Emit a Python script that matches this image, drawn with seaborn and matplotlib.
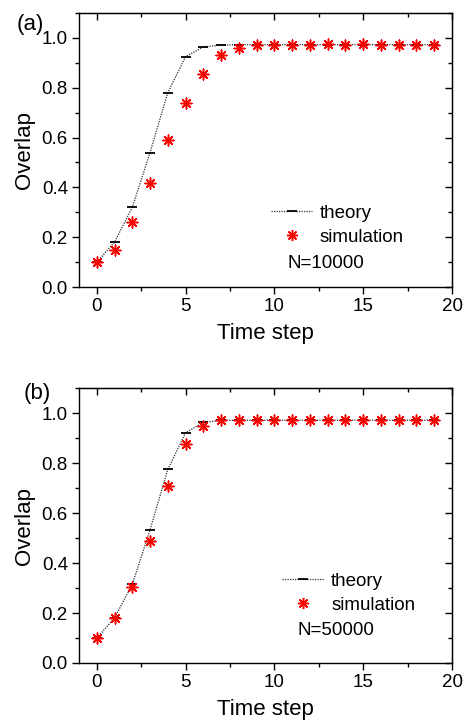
import numpy as np
import pandas as pd
import matplotlib
matplotlib.use("Agg")
import matplotlib.pyplot as plt
import seaborn as sns
from matplotlib.ticker import MultipleLocator, FormatStrFormatter
from matplotlib.lines import Line2D

# ---- data ----
time_steps = list(range(20))
theory_a = [0.10, 0.18, 0.32, 0.54, 0.78, 0.925, 0.964, 0.971, 0.973, 0.973,
            0.973, 0.973, 0.973, 0.973, 0.973, 0.973, 0.973, 0.973, 0.973, 0.973]
sim_a = [0.10, 0.15, 0.262, 0.419, 0.591, 0.737, 0.854, 0.933, 0.961, 0.972,
         0.973, 0.972, 0.972, 0.975, 0.973, 0.974, 0.973, 0.973, 0.973, 0.973]
theory_b = [0.10, 0.18, 0.315, 0.533, 0.775, 0.922, 0.963, 0.971, 0.972, 0.972,
            0.972, 0.972, 0.972, 0.972, 0.972, 0.972, 0.972, 0.972, 0.972, 0.972]
sim_b = [0.10, 0.18, 0.303, 0.49, 0.709, 0.876, 0.949, 0.972, 0.972, 0.972,
         0.972, 0.972, 0.972, 0.972, 0.972, 0.972, 0.972, 0.972, 0.972, 0.972]
panel_labels = ["(a)", "(b)"]
n_labels = ["N=10000", "N=50000"]
series_names = ["theory", "simulation"]

sns.set_style("ticks")
plt.rcParams["font.family"] = ["Liberation Sans", "DejaVu Sans"]
plt.rcParams["text.color"] = "black"
plt.rcParams["axes.labelcolor"] = "black"
plt.rcParams["xtick.color"] = "black"
plt.rcParams["ytick.color"] = "black"
plt.rcParams["axes.edgecolor"] = "black"

fig = plt.figure(figsize=(4.66, 7.23), dpi=100)
ax_a = fig.add_axes([0.1695, 0.603, 0.8005, 0.379])
ax_b = fig.add_axes([0.1695, 0.083, 0.8005, 0.380])

star = (8, 2, 0)

panels = [
    (ax_a, theory_a, sim_a, n_labels[0], panel_labels[0], (0.036, 0.966)),
    (ax_b, theory_b, sim_b, n_labels[1], panel_labels[1], (0.050, 0.456)),
]
legend_pos = [(0.515, 0.30), (0.545, 0.328)]
text_pos = [(0.56, 0.085), (0.585, 0.12)]

for i, (ax, th, sm, nl, pl, plpos) in enumerate(panels):
    df = pd.DataFrame({"t": time_steps, "theory": th, "sim": sm})
    sns.lineplot(data=df, x="t", y="theory", ax=ax, color="#333333",
                 linestyle=(0, (1, 1)), linewidth=0.9, marker="_",
                 markersize=7, markeredgewidth=1.3, markeredgecolor="black",
                 label=series_names[0], legend=False, zorder=2)
    sns.scatterplot(data=df, x="t", y="sim", ax=ax, marker=star, s=60,
                    color="red", edgecolor="red", linewidth=1.1,
                    label=series_names[1], legend=False, zorder=3)
    ax.set_xlim(-1, 20)
    ax.set_ylim(0, 1.1)
    ax.xaxis.set_major_locator(MultipleLocator(5))
    ax.xaxis.set_minor_locator(MultipleLocator(2.5))
    ax.yaxis.set_major_locator(MultipleLocator(0.2))
    ax.yaxis.set_minor_locator(MultipleLocator(0.1))
    ax.yaxis.set_major_formatter(FormatStrFormatter("%.1f"))
    ax.tick_params(which="major", direction="out", length=5, width=1,
                   labelsize=13.5, pad=3, colors="black")
    ax.tick_params(which="minor", direction="out", length=3, width=1)
    for sp in ax.spines.values():
        sp.set_visible(True)
        sp.set_linewidth(1.0)
        sp.set_color("black")
    # mirrored inward ticks on top and right
    top = ax.secondary_xaxis("top")
    top.xaxis.set_major_locator(MultipleLocator(5))
    top.xaxis.set_minor_locator(MultipleLocator(2.5))
    top.tick_params(which="major", direction="in", length=5, width=1, labeltop=False)
    top.tick_params(which="minor", direction="in", length=3, width=1)
    right = ax.secondary_yaxis("right")
    right.yaxis.set_major_locator(MultipleLocator(0.2))
    right.yaxis.set_minor_locator(MultipleLocator(0.1))
    right.tick_params(which="major", direction="in", length=5, width=1, labelright=False)
    right.tick_params(which="minor", direction="in", length=3, width=1)

    ax.set_xlabel("Time step", fontsize=16, labelpad=6)
    ax.set_ylabel("Overlap", fontsize=16, labelpad=5)

    handles = [
        Line2D([], [], color="#333333", linestyle=(0, (1, 1)), linewidth=0.9,
               marker="_", markersize=7, markeredgewidth=1.3, markeredgecolor="black"),
        Line2D([], [], linestyle="none", marker=star, markersize=8,
               markeredgewidth=1.1, color="red"),
    ]
    ax.legend(handles, series_names, loc="upper left",
              bbox_to_anchor=legend_pos[i], frameon=False, fontsize=13.5,
              handlelength=2.2, handletextpad=0.4, labelspacing=0.35,
              borderpad=0, borderaxespad=0, numpoints=1)
    ax.text(text_pos[i][0], text_pos[i][1], nl, transform=ax.transAxes,
            fontsize=13.5, ha="left", va="center")
    fig.text(plpos[0], plpos[1], pl, fontsize=16, ha="left", va="center")

fig.savefig("out.png", dpi=100)
